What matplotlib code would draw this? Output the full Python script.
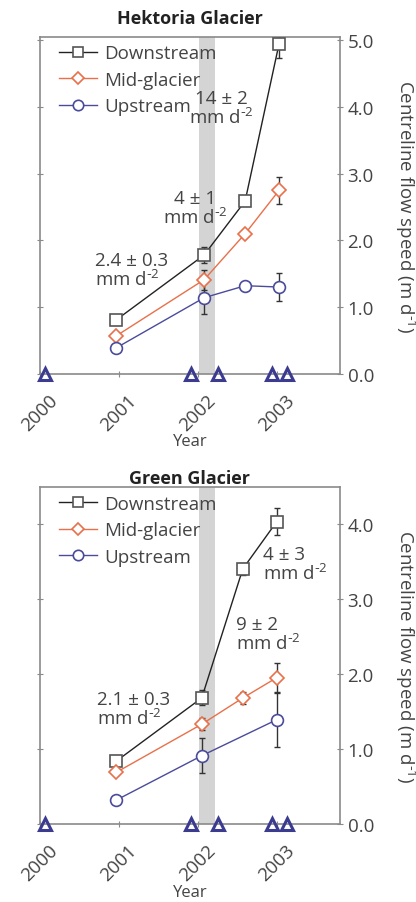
import numpy as np
import matplotlib
matplotlib.use("Agg")
import matplotlib.pyplot as plt
import matplotlib.transforms as mtrans
from matplotlib.lines import Line2D

plt.rcParams['font.family'] = ['Open Sans', 'DejaVu Sans']
plt.rcParams['text.color'] = '#444444'
plt.rcParams['axes.labelcolor'] = '#444444'
plt.rcParams['xtick.color'] = '#444444'
plt.rcParams['ytick.color'] = '#444444'
plt.rcParams['mathtext.default'] = 'regular'

# ---- data (fractional years, m/day) ----
series_names = ['Downstream', 'Mid-glacier', 'Upstream']
image_dates = [2000.06, 2001.92, 2002.25, 2002.94, 2003.13]
collapse_start, collapse_end = 2002.01, 2002.22
year_ticks = [2000, 2001, 2002, 2003]

# Hektoria
hek_down_x = [2000.97, 2002.08, 2002.60, 2003.03]
hek_down_y = [0.81, 1.78, 2.59, 4.95]
hek_down_err = [0.04, 0.12, 0.04, 0.22]
hek_mid_x = [2000.97, 2002.08, 2002.60, 2003.03]
hek_mid_y = [0.57, 1.41, 2.10, 2.75]
hek_mid_err = [0.04, 0.15, 0.04, 0.20]
hek_up_x = [2000.97, 2002.08, 2002.60, 2003.03]
hek_up_y = [0.39, 1.14, 1.32, 1.30]
hek_up_err = [0.04, 0.24, 0.04, 0.21]
hek_notes = ['2.4 ± 0.3\nmm d$^{\\text{-}2}$', '4 ± 1\nmm d$^{\\text{-}2}$',
             '14 ± 2\nmm d$^{\\text{-}2}$']
hek_note_xy = [(2000.70, 1.55), (2001.97, 2.48), (2002.30, 3.99)]
hek_note_ha = ['left', 'center', 'center']

# Green
grn_down_x = [2000.97, 2002.05, 2002.57, 2003.00]
grn_down_y = [0.84, 1.68, 3.40, 4.03]
grn_down_err = [0.04, 0.10, 0.08, 0.18]
grn_mid_x = [2000.97, 2002.05, 2002.57, 2003.00]
grn_mid_y = [0.69, 1.33, 1.68, 1.95]
grn_mid_err = [0.04, 0.08, 0.08, 0.20]
grn_up_x = [2000.97, 2002.05, 2003.00]
grn_up_y = [0.32, 0.91, 1.39]
grn_up_err = [0.04, 0.23, 0.37]
grn_notes = ['2.1 ± 0.3\nmm d$^{\\text{-}2}$', '9 ± 2\nmm d$^{\\text{-}2}$',
             '4 ± 3\nmm d$^{\\text{-}2}$']
grn_note_xy = [(2000.72, 1.53), (2002.48, 2.53), (2002.82, 3.47)]
grn_note_ha = ['left', 'left', 'left']

colors = ['#222222', '#e8704a', '#4b4b9c']
markers = ['s', 'D', 'o']
msizes = [8.5, 7.5, 8.5]
tri_color = '#3b3b8f'
spine_col = '#8a8a8a'


def panel(fig, ax, title, xs, ys, errs, notes, note_xy, note_ha, ytop, yticks, tpad):
    ax.axvspan(collapse_start, collapse_end, color='#d4d4d4', lw=0, zorder=0)
    for i in range(3):
        ax.errorbar(xs[i], ys[i], yerr=errs[i], fmt='none', ecolor='#333333',
                    elinewidth=1.0, capsize=2, capthick=1.0, zorder=2)
        ax.plot(xs[i], ys[i], color=colors[i], lw=1.0, marker=markers[i],
                ms=msizes[i], mfc='white', mec=colors[i] if i else '#555555',
                mew=1.2, zorder=3)
    ax.plot(image_dates, [0] * len(image_dates), ls='none', marker='^',
            ms=8, mfc='none', mec=tri_color, mew=2.2, clip_on=False, zorder=5)
    for txt, (tx, ty), ha in zip(notes, note_xy, note_ha):
        ax.text(tx, ty, txt, ha=ha, va='center', fontsize=13.5, linespacing=1.0,
                multialignment=ha)
    ax.set_xlim(2000, 2003.8)
    ax.set_ylim(0, ytop)
    ax.set_xticks(year_ticks)
    ax.set_xticklabels([str(y) for y in year_ticks], rotation=45, fontsize=13.5)
    shift = mtrans.ScaledTranslation(4 / 100, 0, fig.dpi_scale_trans)
    for lab in ax.get_xticklabels():
        lab.set_transform(lab.get_transform() + shift)
    ax.set_yticks(yticks)
    ax.set_yticklabels(['%.1f' % v for v in yticks], fontsize=13.5)
    ax.tick_params(axis='y', left=True, right=True, labelleft=False,
                   labelright=True, direction='inout', length=4, color=spine_col)
    ax.tick_params(axis='x', direction='inout', length=4, color=spine_col, pad=10)
    ax.yaxis.set_label_position('right')
    ax.set_ylabel('Centreline flow speed (m d$^{\\text{-}1}$)', rotation=270,
                  fontsize=13.5, labelpad=31)
    ax.set_xlabel('Year', fontsize=12, labelpad=0)
    ax.set_title(title, fontsize=13, fontweight='bold', color='#222222', pad=tpad)
    for s in ax.spines.values():
        s.set_color(spine_col)
        s.set_linewidth(1.2)
    handles = [Line2D([], [], color=colors[i], lw=1.0, marker=markers[i],
                      ms=msizes[i] - 1, mfc='white',
                      mec=colors[i] if i else '#555555', mew=1.2)
               for i in range(3)]
    ax.legend(handles, series_names, loc='upper left',
              bbox_to_anchor=(0.04, 1.0), frameon=False, fontsize=13.5,
              handlelength=2.0, handletextpad=0.4, labelspacing=0.45,
              borderaxespad=0.0)


fig = plt.figure(figsize=(4.16, 9.03), dpi=100)
ax1 = fig.add_axes([0.096, 0.585, 0.721, 0.373])
ax2 = fig.add_axes([0.096, 0.0864, 0.721, 0.373])

panel(fig, ax1, 'Hektoria Glacier',
      [hek_down_x, hek_mid_x, hek_up_x], [hek_down_y, hek_mid_y, hek_up_y],
      [hek_down_err, hek_mid_err, hek_up_err],
      hek_notes, hek_note_xy, hek_note_ha, 5.05, [0.0, 1.0, 2.0, 3.0, 4.0, 5.0], 10)
panel(fig, ax2, 'Green Glacier',
      [grn_down_x, grn_mid_x, grn_up_x], [grn_down_y, grn_mid_y, grn_up_y],
      [grn_down_err, grn_mid_err, grn_up_err],
      grn_notes, grn_note_xy, grn_note_ha, 4.49, [0.0, 1.0, 2.0, 3.0, 4.0], 2.5)

fig.savefig('out.png', dpi=100)
